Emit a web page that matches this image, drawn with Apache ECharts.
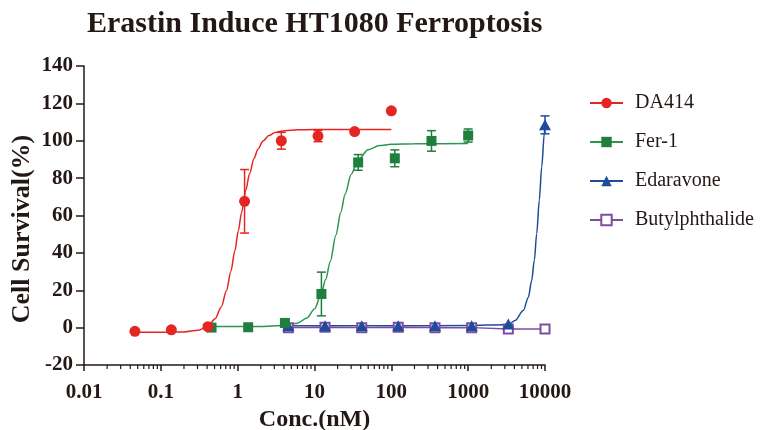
<!DOCTYPE html>
<html>
<head>
<meta charset="utf-8">
<script src="https://cdn.jsdelivr.net/npm/echarts@6/dist/echarts.min.js"></script>
<style>html,body{margin:0;padding:0;background:#fff}#c{width:764px;height:430px}</style>
</head>
<body>
<div id="c"></div>
<script>
// ---- data ----
const xTickLabels = ['0.01', '0.1', '1', '10', '100', '1000', '10000'];
const seriesNames = ['DA414', 'Fer-1', 'Edaravone', 'Butylphthalide'];

const daConc = [0.046, 0.137, 0.41, 1.23, 3.7, 11.1, 33.3, 100];
const daMean = [-2, -1.2, 0.5, 67.6, 100, 102.5, 104.9, 116];
const daErr  = [0.5, 0.5, 0.5, 17, 4.5, 3, 0, 0];
const daFitX = [0.046, 0.1, 0.2, 0.306, 0.408, 0.51, 0.612, 0.714, 0.816, 0.918, 1.02, 1.122, 1.275, 1.428, 1.632, 1.836, 2.14, 2.55, 3.06, 4.08, 6.1, 10, 20, 50, 100];
const daFitY = [-2.5, -2.5, -2.3, -1.4, 0.7, 4.8, 11.1, 19.7, 30.1, 41, 51.8, 61.5, 73.5, 82.4, 90.5, 95.5, 99.9, 102.8, 104.4, 105.4, 105.9, 106, 106, 106, 106];

const ferConc = [0.457, 1.37, 4.12, 12.3, 37, 111, 333, 1000];
const ferMean = [0, 0.2, 2.5, 18, 88.4, 90.6, 99.9, 102.8];
const ferErr  = [0, 0, 1, 11.7, 4.2, 4.5, 5.5, 3.5];
const ferFitX = [0.457, 1, 2, 4, 6, 8, 10, 12, 14, 16, 19, 22, 25, 30, 37, 50, 70, 100, 200, 1000];
const ferFitY = [0.6, 0.6, 0.6, 1.1, 2.4, 5.2, 10, 17, 25.7, 35.3, 49.6, 61.8, 71.4, 82, 89.8, 95.2, 97.4, 98.1, 98.4, 98.5];

const edaConc = [4.57, 13.7, 41.2, 123, 370, 1111, 3333, 10000];
const edaMean = [1, 1, 1, 1, 1, 1, 2, 108.5];
const edaErr  = [0, 0, 0, 0, 0, 0, 0, 4.8];
const edaFitX = [4.57, 100, 1000, 3000, 3500, 4070, 5220, 6070, 6710, 7260, 7800, 8430, 9060, 9800, 10000];
const edaFitY = [1, 1, 1.1, 1.6, 2.2, 3.8, 9.1, 16.3, 25.2, 36, 50.3, 68.2, 86, 104, 108.5];

const butConc = [4.57, 13.7, 41.2, 123, 370, 1111, 3333, 10000];
const butMean = [0, 0.2, 0, 0.2, 0, 0, -0.7, -0.7];

const minorDecades = [0.01, 0.1, 1, 10, 100, 1000];
const minorSteps = [2, 3, 4, 5, 6, 7, 8, 9];

// ---- styles ----
const FONT = "'Liberation Serif','Times New Roman',serif";
const TXT = '#231815';
const RED = '#E52521', GREEN = '#1E7F3E', GREENL = '#2E9452', BLUE = '#1F4B9B', PURPLE = '#7E4DA3';

const zip = (a, b) => a.map((v, i) => [v, b[i]]);
const zip3 = (a, b, c) => a.map((v, i) => [v, b[i], c[i]]);

function errRender(color) {
  return function (params, api) {
    const x = api.value(0), y = api.value(1), e = api.value(2);
    if (!e) return null;
    const t = api.coord([x, y + e]), b = api.coord([x, y - e]);
    const hw = 4.5;
    const st = { stroke: color, lineWidth: 1.5 };
    return { type: 'group', children: [
      { type: 'line', shape: { x1: t[0], y1: t[1], x2: b[0], y2: b[1] }, style: st },
      { type: 'line', shape: { x1: t[0] - hw, y1: t[1], x2: t[0] + hw, y2: t[1] }, style: st },
      { type: 'line', shape: { x1: b[0] - hw, y1: b[1], x2: b[0] + hw, y2: b[1] }, style: st }
    ] };
  };
}

const minorData = [];
minorDecades.forEach(d => minorSteps.forEach(s => minorData.push([d * s, -20])));

const chart = echarts.init(document.getElementById('c'), null, { renderer: 'canvas' });
chart.setOption({
  animation: false,
  backgroundColor: '#fff',
  title: {
    text: 'Erastin Induce HT1080 Ferroptosis',
    left: 82, top: 4,
    textStyle: { fontFamily: FONT, fontWeight: 'bold', fontSize: 30, color: TXT }
  },
  legend: {
    data: seriesNames,
    orient: 'vertical',
    left: 584, top: 88,
    itemWidth: 33, itemHeight: 13, itemGap: 19,
    textStyle: { fontFamily: FONT, fontSize: 20, color: TXT, padding: [0, 0, 0, 7] }
  },
  grid: { left: 84, right: 219, top: 66, bottom: 65, containLabel: false, outerBoundsMode: 'none' },
  xAxis: {
    type: 'log', logBase: 10, min: 0.01, max: 10000,
    name: 'Conc.(nM)', nameLocation: 'middle', nameGap: 40,
    nameTextStyle: { fontFamily: FONT, fontWeight: 'bold', fontSize: 24, color: TXT },
    axisLine: { onZero: false, lineStyle: { color: TXT, width: 1.5 } },
    axisTick: { show: true, length: 6, lineStyle: { color: TXT, width: 1.5 } },
    axisLabel: {
      margin: 17, fontFamily: FONT, fontWeight: 'bold', fontSize: 21, color: TXT,
      formatter: (v, i) => xTickLabels[i]
    },
    splitLine: { show: false }
  },
  yAxis: {
    type: 'value', min: -20, max: 140, interval: 20,
    axisLine: { show: true, onZero: false, lineStyle: { color: TXT, width: 1.5 } },
    axisTick: { show: true, length: 8, lineStyle: { color: TXT, width: 1.5 } },
    axisLabel: { margin: 11, fontFamily: FONT, fontWeight: 'bold', fontSize: 21, color: TXT },
    splitLine: { show: false }
  },
  graphic: [{
    type: 'text', x: 22, y: 229, rotation: Math.PI / 2,
    style: { text: 'Cell Survival(%)', fontFamily: FONT, fontWeight: 'bold', fontSize: 26, fill: TXT, align: 'center', verticalAlign: 'middle' }
  }],
  series: [
    { name: 'minorTicks', type: 'custom', silent: true, clip: false, z: 1,
      data: minorData,
      renderItem: (p, api) => { const c = api.coord([api.value(0), -20]); return { type: 'line', shape: { x1: c[0], y1: c[1], x2: c[0], y2: c[1] + 4 }, style: { stroke: TXT, lineWidth: 1.2 } }; } },

    // Butylphthalide
    { name: 'Butylphthalide', type: 'line', data: zip(butConc, butMean), z: 3,
      symbol: 'emptyRect', symbolSize: 9, showSymbol: true,
      itemStyle: { color: PURPLE, borderWidth: 1.5 }, lineStyle: { color: PURPLE, width: 1.5 } },

    // Edaravone
    { name: 'Edaravone', type: 'line', data: zip(edaFitX, edaFitY), z: 2,
      smooth: 0.3, smoothMonotone: 'x', symbol: 'triangle', symbolSize: 11, showSymbol: false,
      itemStyle: { color: BLUE }, lineStyle: { color: BLUE, width: 1.5 } },
    { name: 'EdaErr', type: 'custom', data: zip3(edaConc, edaMean, edaErr), renderItem: errRender(BLUE), z: 4 },
    { name: 'EdaPts', type: 'scatter', data: zip(edaConc, edaMean), symbol: 'triangle', symbolSize: [12, 11], itemStyle: { color: BLUE, opacity: 1 }, z: 5 },

    // Fer-1
    { name: 'Fer-1', type: 'line', data: zip(ferFitX, ferFitY), z: 2,
      smooth: 0.3, smoothMonotone: 'x', symbol: 'rect', symbolSize: 10, showSymbol: false,
      itemStyle: { color: GREEN }, lineStyle: { color: GREENL, width: 1.5 } },
    { name: 'FerErr', type: 'custom', data: zip3(ferConc, ferMean, ferErr), renderItem: errRender(GREEN), z: 4 },
    { name: 'FerPts', type: 'scatter', data: zip(ferConc, ferMean), symbol: 'rect', symbolSize: 10, itemStyle: { color: GREEN, opacity: 1 }, z: 5 },

    // DA414
    { name: 'DA414', type: 'line', data: zip(daFitX, daFitY), z: 2,
      smooth: 0.3, smoothMonotone: 'x', symbol: 'circle', symbolSize: 10, showSymbol: false,
      itemStyle: { color: RED }, lineStyle: { color: RED, width: 1.5 } },
    { name: 'DAErr', type: 'custom', data: zip3(daConc, daMean, daErr), renderItem: errRender(RED), z: 4 },
    { name: 'DAPts', type: 'scatter', data: zip(daConc, daMean), symbol: 'circle', symbolSize: 11, itemStyle: { color: RED, opacity: 1 }, z: 6 }
  ]
});
</script>
</body>
</html>
